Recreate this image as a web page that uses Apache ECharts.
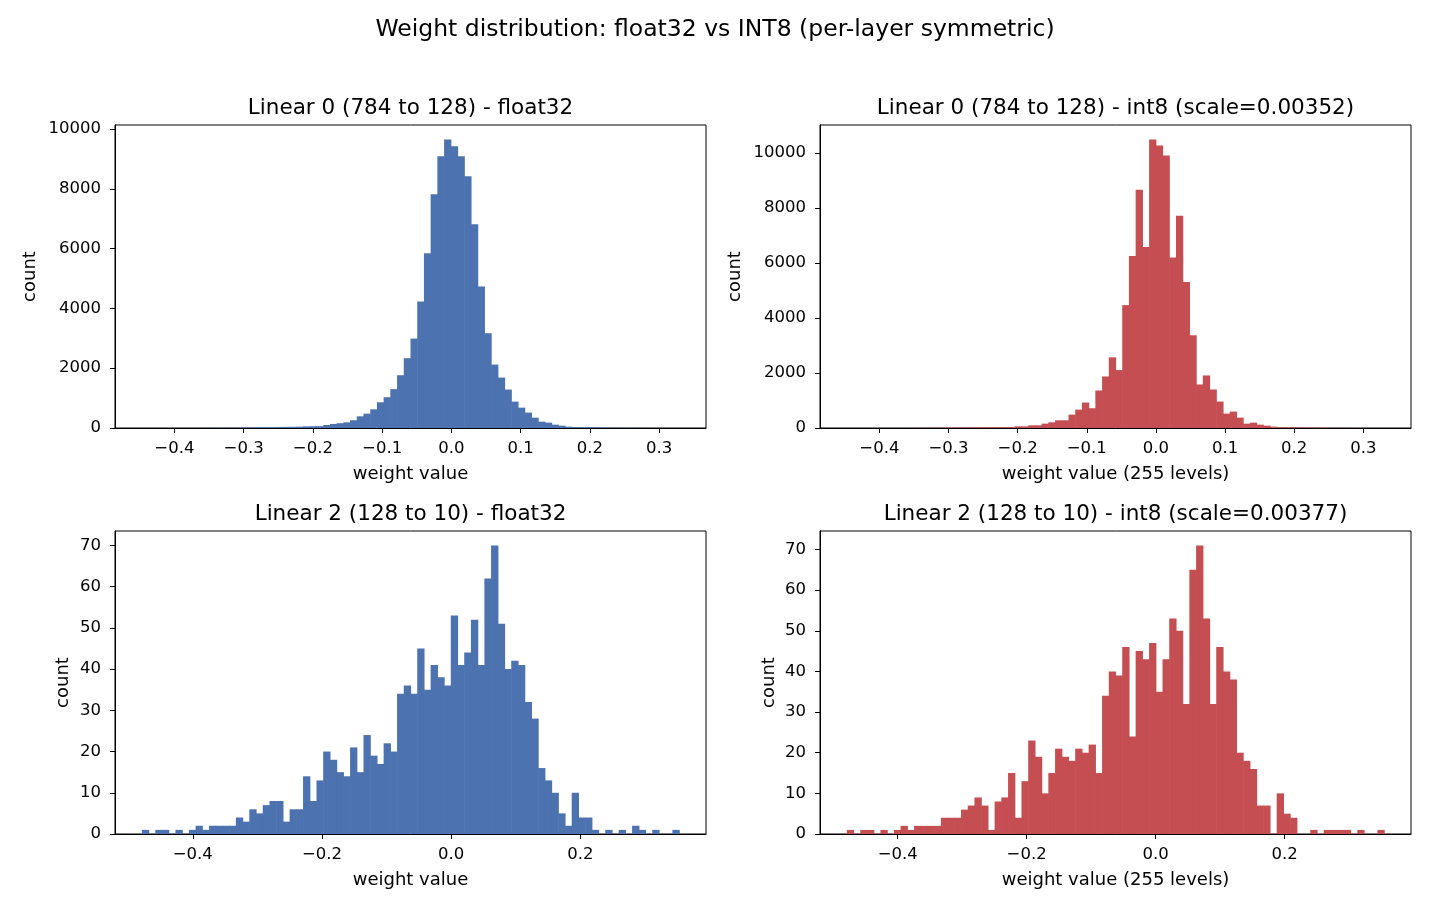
<!DOCTYPE html>
<html>
<head>
<meta charset="utf-8">
<script src="https://cdn.jsdelivr.net/npm/echarts@6/dist/echarts.min.js"></script>
<style>
  html, body { margin: 0; padding: 0; background: #fff; }
  #chart { width: 1430px; height: 910px; }
</style>
</head>
<body>
<div id="chart"></div>
<script>
// histogram counts, 80 bins each
const l0Float = [
  1, 0, 0, 1, 0, 1, 2, 1, 2, 3, 4, 5, 6, 8, 9, 12, 15, 20, 30, 18,
  35, 38, 40, 45, 55, 58, 62, 100, 135, 160, 190, 260, 390, 480, 625, 860, 1030, 1300, 1765, 2335,
  2990, 4230, 5840, 7817, 9090, 9650, 9425, 9090, 8420, 6810, 4735, 3170, 2120, 1686, 1285, 882, 681, 514, 346, 212,
  179, 112, 78, 45, 32, 28, 25, 22, 15, 12, 9, 7, 5, 4, 3, 2, 2, 1, 0, 1
];
const l0Int8 = [
  1, 0, 0, 1, 0, 1, 2, 1, 2, 3, 4, 5, 6, 8, 9, 12, 15, 18, 25, 18,
  28, 30, 30, 32, 35, 60, 60, 97, 97, 158, 207, 280, 280, 486, 669, 925, 718, 1363, 1873, 2567,
  2105, 4465, 6253, 8662, 6582, 10487, 10268, 9903, 6193, 7713, 5304, 3370, 1582, 1910, 1399, 961, 523, 596, 377, 158,
  195, 122, 85, 49, 28, 25, 22, 20, 14, 10, 8, 6, 5, 4, 3, 2, 1, 1, 0, 1
];
const l2Float = [
  1, 0, 1, 1, 0, 1, 0, 1, 2, 1, 2, 2, 2, 2, 4, 3, 6, 5, 7, 8,
  8, 3, 6, 6, 14, 8, 13, 20, 18, 15, 14, 21, 15, 24, 19, 17, 22, 20, 34, 36,
  34, 45, 35, 41, 38, 36, 53, 41, 44, 52, 41, 62, 70, 51, 40, 42, 41, 32, 28, 16,
  13, 10, 5, 2, 10, 4, 4, 1, 0, 1, 0, 1, 0, 2, 1, 0, 1, 0, 0, 1
];
const l2Int8 = [
  1, 0, 1, 1, 0, 1, 0, 1, 2, 1, 2, 2, 2, 2, 4, 4, 4, 6, 7, 9,
  7, 1, 8, 9, 15, 4, 13, 23, 19, 10, 15, 21, 19, 18, 21, 20, 22, 15, 34, 40,
  39, 46, 24, 45, 43, 47, 35, 43, 53, 50, 32, 65, 71, 53, 32, 46, 40, 38, 20, 18,
  16, 7, 7, 0, 10, 5, 4, 0, 0, 1, 0, 1, 1, 1, 1, 0, 1, 0, 0, 1
];

// data range (min, max weight) of each histogram
const l0FloatRange = [-0.447, 0.329];
const l0Int8Range = [-0.447, 0.330];
const l2FloatRange = [-0.4788, 0.3527];
const l2Int8Range = [-0.4788, 0.3544];

const topXTicks = [-0.4, -0.3, -0.2, -0.1, 0, 0.1, 0.2, 0.3];
const bottomXTicks = [-0.4, -0.2, 0, 0.2];
const topYTicks = [0, 2000, 4000, 6000, 8000, 10000];
const bottomYTicks = [0, 10, 20, 30, 40, 50, 60, 70];

const panelTitles = [
  'Linear 0 (784 to 128) - float32',
  'Linear 0 (784 to 128) - int8 (scale=0.00352)',
  'Linear 2 (128 to 10) - float32',
  'Linear 2 (128 to 10) - int8 (scale=0.00377)'
];
const xNames = ['weight value', 'weight value (255 levels)', 'weight value', 'weight value (255 levels)'];

const BLUE = '#4c72b0';
const RED = '#c44e52';
const FONT = 'DejaVu Sans';

const panels = [
  { counts: l0Float, range: l0FloatRange, color: BLUE, xTicks: topXTicks, yTicks: topYTicks, left: 115, top: 125, yGap: 76 },
  { counts: l0Int8, range: l0Int8Range, color: RED, xTicks: topXTicks, yTicks: topYTicks, left: 820, top: 125, yGap: 76 },
  { counts: l2Float, range: l2FloatRange, color: BLUE, xTicks: bottomXTicks, yTicks: bottomYTicks, left: 115, top: 531, yGap: 43 },
  { counts: l2Int8, range: l2Int8Range, color: RED, xTicks: bottomXTicks, yTicks: bottomYTicks, left: 820, top: 531, yGap: 42 }
];

const W = 591, H = 303;

function histData(counts, range) {
  const w = (range[1] - range[0]) / counts.length;
  return counts.map((c, i) => [range[0] + i * w, range[0] + (i + 1) * w, c]);
}

function renderBar(color) {
  return function (params, api) {
    const c = api.value(2);
    if (!c) return null;
    const p0 = api.coord([api.value(0), c]);
    const p1 = api.coord([api.value(1), 0]);
    return {
      type: 'rect',
      // widen a hair so neighbouring bars do not show seams
      shape: { x: p0[0], y: p0[1], width: p1[0] - p0[0] + 0.6, height: p1[1] - p0[1] },
      style: { fill: color }
    };
  };
}

function fmtX(v) {
  return (v < -1e-9 ? '\u2212' : '') + Math.abs(v).toFixed(1);
}

const tickText = { color: '#000', fontFamily: FONT, fontSize: 16.5 };
const nameText = { color: '#000', fontFamily: FONT, fontSize: 18 };

const grid = [], xAxis = [], yAxis = [], series = [], graphic = [];

panels.forEach((p, i) => {
  const span = p.range[1] - p.range[0];
  grid.push({
    left: p.left, top: p.top, width: W, height: H,
    show: true, borderColor: '#000', borderWidth: 1, backgroundColor: 'transparent'
  });
  xAxis.push({
    gridIndex: i, type: 'value',
    min: p.range[0] - 0.05 * span, max: p.range[1] + 0.05 * span,
    name: xNames[i], nameLocation: 'middle', nameGap: 37,
    nameTextStyle: nameText,
    axisLine: { show: true, onZero: false, lineStyle: { color: '#000', width: 1 } },
    axisTick: { show: true, length: 5, lineStyle: { color: '#000', width: 1 }, customValues: p.xTicks },
    axisLabel: { ...tickText, margin: 12, customValues: p.xTicks, formatter: fmtX },
    splitLine: { show: false }
  });
  yAxis.push({
    gridIndex: i, type: 'value',
    min: 0, max: Math.max(...p.counts) * 1.05,
    name: 'count', nameLocation: 'middle', nameGap: p.yGap,
    nameTextStyle: nameText,
    axisLine: { show: true, onZero: false, lineStyle: { color: '#000', width: 1 } },
    axisTick: { show: true, length: 5, lineStyle: { color: '#000', width: 1 }, customValues: p.yTicks },
    axisLabel: { ...tickText, margin: 14, customValues: p.yTicks, formatter: v => String(Math.round(v)) },
    splitLine: { show: false }
  });
  series.push({
    type: 'custom',
    xAxisIndex: i, yAxisIndex: i,
    renderItem: renderBar(p.color),
    encode: { x: [0, 1], y: 2 },
    data: histData(p.counts, p.range),
    silent: true,
    animation: false
  });
  graphic.push({
    type: 'text', x: p.left + W / 2, y: p.top - 17,
    style: {
      text: panelTitles[i], align: 'center', verticalAlign: 'middle',
      textAlign: 'center', textVerticalAlign: 'middle',
      fontSize: 21.5, fontFamily: FONT, fill: '#000'
    }
  });
});

graphic.push({
  type: 'text', x: 715, y: 30,
  style: {
    text: 'Weight distribution: float32 vs INT8 (per-layer symmetric)',
    align: 'center', verticalAlign: 'middle', textAlign: 'center', textVerticalAlign: 'middle',
    fontSize: 23.5, fontFamily: FONT, fill: '#000'
  }
});

const chart = echarts.init(document.getElementById('chart'), null, { renderer: 'canvas' });
chart.setOption({
  backgroundColor: '#fff',
  animation: false,
  grid, xAxis, yAxis, series, graphic
});
</script>
</body>
</html>
